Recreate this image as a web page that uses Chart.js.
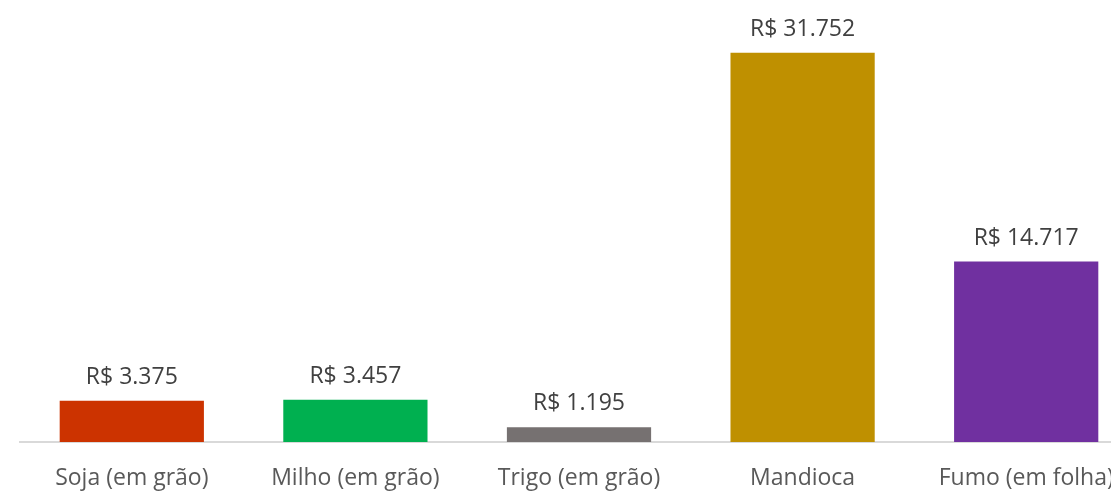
<!DOCTYPE html>
<html>
<head>
<meta charset="utf-8">
<script src="https://cdn.jsdelivr.net/npm/chart.js@4"></script>
<style>
  body { margin: 0; overflow: hidden; background: #fff; }
  #wrap { width: 1111px; height: 493px; overflow: hidden; position: relative; }
  canvas { position: absolute; left: 0; top: 0; }
</style>
</head>
<body>
<div id="wrap"><canvas id="produtos" width="1140" height="493"></canvas></div>
<script>
var categorias = ["Soja (em grão)", "Milho (em grão)", "Trigo (em grão)", "Mandioca", "Fumo (em folha)"];
var valores = [3375, 3457, 1195, 31752, 14717];
var cores = ["#CC3300", "#00B050", "#767171", "#BF9000", "#7030A0"];

function formatarReal(v) {
    return "R$ " + v.toLocaleString("pt-BR");
}

var rotulos = {
    id: "rotulos",
    afterDatasetsDraw: function (chart) {
        var ctx = chart.ctx;
        var meta = chart.getDatasetMeta(0);
        ctx.save();
        ctx.font = "23px 'Open Sans'";
        ctx.fillStyle = "#404040";
        ctx.textAlign = "center";
        ctx.textBaseline = "alphabetic";
        meta.data.forEach(function (bar, i) {
            ctx.fillText(formatarReal(valores[i]), bar.x, bar.y - 17);
        });
        ctx.restore();
    }
};

new Chart("produtos", {
    type: "bar",
    data: {
        labels: categorias,
        datasets: [{
            data: valores,
            backgroundColor: cores,
            borderWidth: 0,
            categoryPercentage: 0.645,
            barPercentage: 1
        }]
    },
    options: {
        responsive: false,
        animation: false,
        layout: { padding: { left: 20, right: 2, top: 13, bottom: 0 } },
        scales: {
            y: {
                display: false,
                min: 0,
                max: 35000
            },
            x: {
                grid: { display: false, drawTicks: false },
                border: { display: true, color: "#D9D9D9", width: 2 },
                ticks: {
                    color: "#595959",
                    font: { family: "'Open Sans'", size: 23 },
                    padding: 23,
                    maxRotation: 0,
                    autoSkip: false
                },
                afterFit: function (axis) { axis.height = 51; }
            }
        },
        plugins: {
            legend: { display: false },
            tooltip: { enabled: false }
        }
    },
    plugins: [rotulos]
});
</script>
</body>
</html>
